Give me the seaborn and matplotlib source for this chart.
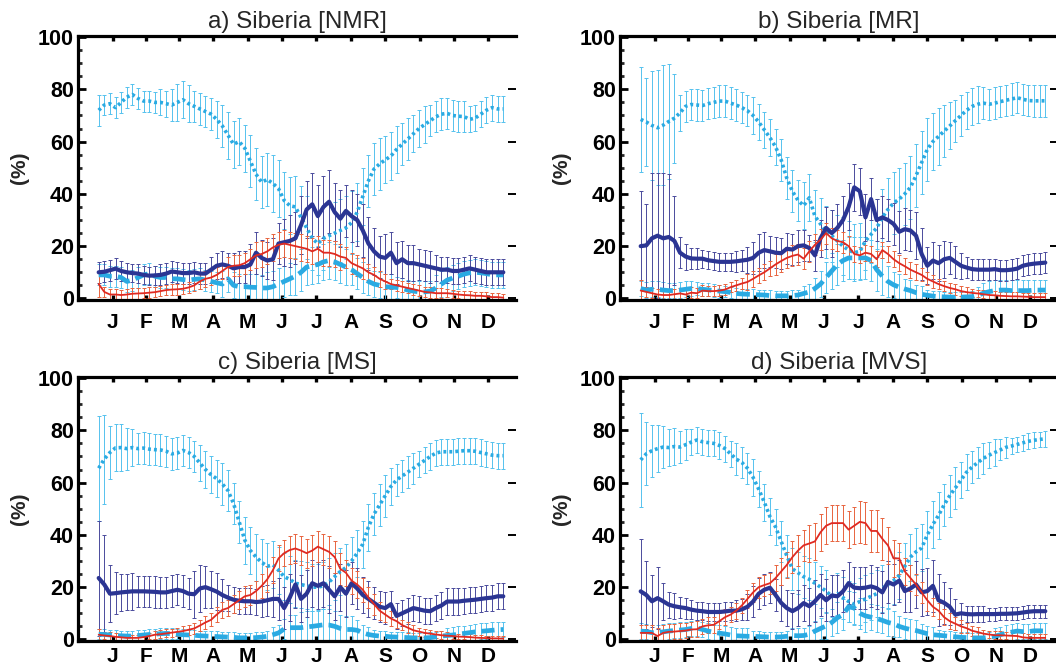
import numpy as np
import pandas as pd
import matplotlib
matplotlib.use("Agg")
import matplotlib.pyplot as plt
import seaborn as sns
from matplotlib.ticker import MultipleLocator, FixedLocator

sns.set_theme(style="white")
plt.rcParams['font.family'] = ['Liberation Sans', 'DejaVu Sans']

# ---------------- data ----------------
month_labels = ['J', 'F', 'M', 'A', 'M', 'J', 'J', 'A', 'S', 'O', 'N', 'D']
month_mid_days = [15.5, 45, 74.5, 105, 135.5, 166, 196.5, 227.5, 258, 288.5, 319, 349.5]
titles = ['a) Siberia [NMR]', 'b) Siberia [MR]', 'c) Siberia [MS]', 'd) Siberia [MVS]']

# ---- panel a ----
a_dot = [72, 74, 74.5, 73, 75, 77, 78, 76.5, 75.5, 75.5,
         75, 75, 74.5, 74, 75, 76, 74.5, 73.5, 72.5, 71.5,
         70.5, 68.5, 66, 62.5, 59, 60, 57.5, 52.5, 47.5, 44.5,
         45.5, 44, 42, 37.5, 35.5, 35, 31, 27, 23, 21,
         23, 24, 25, 26, 27, 29, 33, 39, 45, 49.5,
         51.5, 53, 54.5, 57, 59, 61, 63, 65, 66.5, 68,
         69.5, 70.5, 70.8, 70, 69.7, 69.6, 68.5, 69, 70.5, 72,
         73, 72.5, 72.5]
a_dot_err = [6, 4, 4, 4, 4, 4, 4, 4, 4, 4,
             4, 5, 5, 6, 7, 7, 7, 6, 6, 6,
             6, 7, 8, 9, 9, 9, 9, 10, 10, 10,
             10, 11, 11, 11, 11, 12, 12, 12, 12, 12,
             12, 12, 12, 12, 12, 12, 11, 11, 10, 10,
             10, 9, 9, 9, 8, 8, 7, 7, 7, 6,
             6, 6, 6, 6, 6, 6, 5, 5, 5, 5,
             5, 5, 5]
a_sol = [10, 10.2, 10.8, 11.4, 10.5, 10, 9.7, 9.5, 9, 8.7,
         8.8, 9, 9.5, 10.3, 10, 9.7, 9.7, 10, 9.5, 9.5,
         11, 12.5, 13, 12.5, 11.5, 12, 12, 13, 17.5, 15.5,
         14.5, 15, 21, 21.5, 22, 23, 28, 34, 36, 31.5,
         35, 37, 33, 30.5, 33.5, 31.5, 30, 26, 21, 18,
         16, 15.5, 17.5, 13.5, 15, 13.5, 13.5, 13, 12.5, 12,
         11.5, 11, 11, 10.5, 10.5, 11, 11.5, 11, 10.5, 10,
         10, 10, 10]
a_sol_err = [4, 4, 4, 4, 4, 3.5, 3.5, 3.5, 3.5, 3.5,
             3.5, 4, 4, 4, 4, 4, 4, 4, 4, 4,
             5, 5, 5, 5, 6, 6, 6, 8, 8, 7,
             7, 8, 8, 9, 10, 10, 11, 11, 12, 12,
             12, 12, 11, 11, 10, 10, 10, 10, 10, 9,
             8, 9, 8, 8, 7, 7, 7, 6, 6, 6,
             5, 5, 5, 5, 5, 5, 5, 5, 5, 5,
             5, 5, 5]
a_red = [5.5, 2.5, 1.5, 1.5, 1.3, 1.5, 1.8, 1.9, 2, 2.2,
         2.4, 2.8, 3.2, 3.4, 3.5, 3.7, 4.2, 5, 6.5, 7.5,
         8, 9, 10.5, 12, 12.5, 12.7, 13.5, 15, 16.5, 17,
         18, 19.5, 20.5, 21, 20.5, 20, 19.5, 19, 18, 19,
         17.5, 17.5, 17, 16, 15.5, 13.5, 12.5, 11.5, 10, 9,
         7.5, 6.5, 5.5, 5, 4.5, 4, 3.5, 3, 2.5, 2.3,
         2, 2, 2, 1.8, 1.5, 1.3, 1.2, 1, 1, 0.8,
         0.5, 0.5, 0.3]
a_red_err = [5, 2, 2, 2, 2, 2, 2, 2, 2, 2,
             2, 2, 2, 2, 2, 2, 2, 2, 3, 3,
             3, 3, 3, 4, 4, 4, 4, 4, 5, 5,
             5, 5, 5, 5, 5, 5, 5, 5, 5, 5,
             5, 5, 5, 5, 4, 4, 4, 4, 3, 3,
             3, 3, 2, 2, 2, 2, 2, 2, 2, 2,
             2, 2, 1.5, 1.5, 1.5, 1.5, 1.5, 1.5, 1.5, 1.5,
             1.5, 1.5, 1.5]
a_das = [9, 9, 8.5, 8.5, 8, 6.5, 7, 8, 9, 9.5,
         8.5, 8, 8, 7.5, 7.5, 7.2, 7, 7.3, 7.5, 7,
         6.5, 6, 5.5, 7.5, 5, 4.5, 4.5, 4.3, 4.2, 4,
         4, 4.5, 5.5, 6.5, 7.5, 8.5, 10, 12, 12.5, 13,
         14, 14.5, 14, 13, 12, 11, 9.5, 8, 6.5, 5.5,
         5, 4.5, 4.3, 4.2, 3.8, 3.2, 2.8, 2.5, 2.5, 2.8,
         4, 5.5, 7, 7.8, 8.5, 9.3, 9.8, 10, 9.8, 9.5,
         9, 9, 9]
a_das_err = [4, 4, 4, 4, 4, 4, 4, 4, 4, 4,
             4, 4, 4, 4, 4, 4, 4, 4, 4, 4,
             4, 4, 5, 5, 5, 5, 5, 5, 5, 5,
             6, 6, 6, 6, 6, 7, 7, 7, 7, 7,
             7, 7, 7, 7, 7, 6, 6, 6, 5, 5,
             5, 5, 5, 4, 4, 4, 4, 4, 4, 4,
             5, 5, 5, 5, 5, 5, 5, 5, 5, 5,
             5, 5, 5]

# ---- panel b ----
b_dot = [68.5, 67.5, 66.2, 65.3, 66.3, 67.7, 69, 71, 73.5, 74.2,
         74, 73.8, 74.5, 75, 75.5, 75.5, 74.7, 74, 73, 71.8,
         70, 67.5, 64.5, 61.5, 58, 53, 46, 41, 37.5, 35.5,
         38.5, 31.5, 28.5, 25.5, 24, 22, 20, 18.5, 17.5, 18,
         22, 24.5, 27, 31, 34, 36.5, 38, 40, 42.5, 47,
         52, 57, 60, 62, 64, 66, 68, 70, 72, 73.5,
         74.3, 74.7, 74.3, 74.7, 75.3, 75.8, 76.3, 76.8, 76.2, 75.7,
         75.6, 75.6, 75.6]
b_dot_err = [20, 17, 21, 22, 23, 22, 17, 7, 6, 6,
             6, 6, 6, 6, 6, 6, 6, 6, 6, 6,
             7, 7, 7, 7, 7, 8, 8, 8, 8, 9,
             9, 10, 10, 10, 10, 10, 11, 11, 11, 11,
             11, 11, 11, 11, 12, 12, 12, 12, 12, 12,
             12, 12, 11, 11, 10, 9, 8, 8, 7, 7,
             7, 6, 6, 6, 6, 6, 6, 6, 6, 6,
             6, 6, 6]
b_sol = [20, 20.3, 23, 24, 23, 23.5, 22, 17.5, 16, 15.3,
         15.2, 15.2, 14.6, 14.3, 14, 14, 14, 14.2, 14.5, 14.8,
         15.5, 17.5, 18.5, 18, 17.5, 17.3, 19, 18.7, 20, 20.3,
         19.3, 16.5, 23, 27, 25, 27, 30, 35, 42.5, 41,
         31, 38, 30, 31, 30, 28.5, 25.5, 26.5, 26, 24,
         17, 12.5, 14.5, 13.5, 15, 15.5, 14, 12.5, 11.8, 11.2,
         11, 11, 11, 11.2, 10.8, 10.8, 11, 11.4, 12.5, 13,
         13.3, 13.5, 13.7]
b_sol_err = [21, 16, 25, 24, 25, 24, 17, 6, 5, 4,
             4, 3.5, 3.5, 3.5, 3.5, 3.5, 3.5, 4, 4, 5,
             6, 7, 7, 6, 6, 6, 6, 6, 6, 6,
             5, 6, 7, 8, 9, 9, 9, 9, 9, 9,
             9, 8, 8, 8, 8, 8, 8, 8, 8, 9,
             10, 7, 7, 7, 7, 6, 6, 5, 4, 4,
             4, 4, 4, 4, 4, 4, 4, 4, 4, 4,
             4, 4, 4]
b_red = [3, 2.5, 2, 1.5, 1.3, 1.3, 1.6, 1.9, 1.5, 2.2,
         2, 3, 2.8, 2.8, 3, 3.4, 4.3, 5, 5.7, 6.3,
         7.5, 8.8, 10, 11.5, 13, 14.3, 15.5, 16.3, 16.8, 15.2,
         18, 20.5, 22.5, 25, 23, 22, 21.5, 20, 17, 16.5,
         17.5, 17, 15, 18.5, 17, 15, 13.5, 12.3, 11, 10,
         9, 7.5, 6.5, 5.5, 4.7, 4, 3.5, 2.8, 2.4, 2.1,
         1.9, 1.6, 1.3, 1.2, 1, 0.9, 0.8, 0.8, 0.7, 0.6,
         0.5, 0.5, 0.5]
b_red_err = [4, 2, 2, 2, 2, 2, 2, 2, 2, 2,
             2, 2, 2, 2, 2, 2, 2, 2, 2, 3,
             3, 3, 3, 3, 4, 4, 4, 4, 4, 4,
             4, 4, 4, 4, 4, 4, 4, 4, 3, 3,
             3, 3, 3, 3, 3, 3, 3, 3, 3, 3,
             2.5, 2.5, 2.5, 2, 2, 2, 2, 2, 2, 1.5,
             1.5, 1.5, 1.5, 1.5, 1.5, 1.5, 1.5, 1.5, 1.5, 1.5,
             1.5, 1.5, 1.5]
b_das = [3.8, 3.2, 3.5, 3.5, 3.2, 3, 3, 3.2, 3.5, 3.8,
         3.8, 3.5, 3.3, 3, 2.8, 2.6, 2.3, 1.9, 1.7, 1.6,
         1.5, 1.4, 1.3, 1.1, 1, 1, 1, 1.1, 1.3, 1.9,
         2.5, 3.8, 5.5, 8, 10.5, 13, 14.5, 15.5, 15.5, 15.5,
         15.5, 14.5, 11, 8.5, 6.5, 5.2, 4.3, 3.6, 3, 2.2,
         1.6, 1.2, 0.9, 0.7, 0.6, 0.5, 0.5, 0.5, 0.6, 0.7,
         1.2, 2, 2.6, 3, 3.2, 3.2, 3, 3, 3, 3,
         3.2, 3.2, 3.2]
b_das_err = [3, 3, 3, 3, 3, 3, 3, 3, 3, 3,
             2.5, 2.5, 2.5, 2.5, 2.5, 2, 2, 2, 2, 2,
             2, 2, 2, 2, 2, 2, 2, 2, 2, 3,
             3, 4, 5, 6, 7, 8, 8, 8, 8, 8,
             8, 8, 8, 7, 6, 5, 5, 4, 4, 3,
             3, 2, 2, 2, 2, 2, 2, 2, 2, 2,
             3, 4, 4, 4, 4, 4, 4, 4, 4, 4,
             4, 4, 4]

# ---- panel c ----
c_dot = [65.5, 69, 71.5, 73.3, 73.4, 73, 73.4, 73, 73.2, 72.8,
         72.6, 72.5, 72, 71, 71.3, 72.3, 71.5, 70, 67.5, 65,
         63, 61.5, 59.5, 57, 52, 45, 38, 34, 31.5, 29.5,
         28, 28.5, 26.5, 24, 23, 21.5, 21, 20.5, 20, 20,
         20.5, 22, 24, 26, 27.5, 30, 33, 36.5, 43, 48,
         51.5, 55, 58.5, 61, 62.5, 64, 65.5, 67, 68.5, 70,
         71.3, 71.8, 71.8, 71.8, 72, 72.2, 72.2, 72, 71.5, 71,
         70.5, 70.3, 70.3]
c_dot_err = [20, 17, 10, 9, 9, 8, 7, 6, 6, 6,
             6, 6, 6, 6, 6, 6, 6, 6, 7, 7,
             7, 7, 8, 8, 8, 8, 9, 9, 9, 9,
             9, 9, 9, 9, 9, 9, 9, 9, 9, 9,
             9, 9, 9, 9, 9, 9, 9, 9, 9, 8,
             8, 8, 7, 6, 6, 6, 6, 5, 5, 5,
             5, 5, 5, 5, 5, 5, 5, 5, 5, 5,
             5, 5, 5]
c_sol = [23.5, 21, 17.5, 17.7, 18, 18.2, 18.4, 18.4, 18.4, 18.3,
         18.2, 18, 18, 18.5, 19, 18.5, 17.5, 17.3, 19.5, 20,
         19.2, 18.3, 17, 16, 15.2, 14.8, 14.6, 14.6, 14.3, 14.5,
         15, 15.5, 15.5, 12, 16, 21, 15.5, 17.5, 21.5, 20.5,
         21.5, 19, 16.5, 20, 17.5, 21.5, 19.5, 17, 15.5, 14,
         12.5, 12, 13.5, 9, 10, 11, 12, 11.5, 11, 10.8,
         12, 13, 14.5, 14.5, 14.5, 14.8, 15, 15.2, 15.5, 15.8,
         16, 16.5, 16.5]
c_sol_err = [22, 19, 11, 8, 7, 7, 7, 6, 6, 6,
             6, 6, 6, 6, 6, 6, 6, 9, 9, 8,
             7, 7, 6, 5, 5, 5, 5, 5, 5, 6,
             6, 7, 8, 8, 9, 9, 9, 9, 9, 9,
             9, 9, 9, 9, 9, 8, 8, 7, 7, 6,
             6, 6, 5, 5, 5, 5, 5, 5, 5, 5,
             5, 5, 5, 5, 5, 5, 5, 5, 5, 5,
             5, 5, 5]
c_red = [1.8, 1.5, 1.3, 1, 0.8, 0.6, 0.6, 0.6, 0.9, 1.3,
         1.8, 2, 2.3, 2.6, 2.9, 3.2, 3.7, 4.2, 5.3, 6.5,
         7.5, 9.5, 11.3, 12, 13.5, 15, 16.5, 17, 18.5, 20.5,
         23, 26.5, 31, 33, 34.2, 34.8, 34, 33, 34, 35.5,
         34.5, 33.5, 31.5, 27, 25.5, 22.5, 21, 19, 16, 13.5,
         11, 9.5, 8, 7, 5.5, 4.5, 3.5, 3, 2.5, 2.2,
         1.9, 1.6, 1.4, 1.3, 1.1, 1, 0.9, 0.7, 0.6, 0.5,
         0.4, 0.4, 0.3]
c_red_err = [2, 1.5, 1.5, 1.5, 1, 1, 1, 1, 1, 1,
             1.5, 1.5, 1.5, 1.5, 1.5, 2, 2, 2, 2, 2.5,
             2.5, 3, 3, 3, 3.5, 3.5, 4, 4, 4, 4.5,
             5, 5, 5, 5, 5.5, 5.5, 5.5, 5.5, 6, 6,
             6, 6, 6, 6, 5, 5, 5, 4.5, 4, 4,
             3.5, 3, 3, 2.5, 2, 2, 2, 1.5, 1.5, 1.5,
             1.5, 1.5, 1.5, 1, 1, 1, 1, 1, 1, 1,
             1, 1, 1]
c_das = [2, 1.9, 1.7, 1.5, 1.4, 1.3, 1.3, 1.5, 1.7, 1.9,
         2, 2.2, 2.3, 2.2, 2, 1.8, 1.7, 1.6, 1.4, 1.3,
         1.2, 1.1, 1, 0.9, 0.8, 0.6, 0.6, 0.6, 0.7, 0.9,
         1.2, 1.8, 2.5, 4, 4.5, 4.5, 4.5, 4.8, 5, 5.3,
         5.6, 5.5, 5, 4.2, 3.8, 3.8, 3.5, 2.5, 1.9, 1.5,
         1.3, 1.2, 1, 0.9, 0.8, 0.7, 0.6, 0.6, 0.6, 0.7,
         1, 1.3, 1.5, 1.7, 2, 2.3, 2.6, 2.9, 3.1, 3.3,
         3.5, 3.7, 3.8]
c_das_err = [2, 2, 2, 2, 2, 2, 2, 2, 2, 2,
             2, 2, 2, 2, 2, 2, 2, 2, 2, 2,
             2, 2, 2, 2, 2, 2, 2, 2, 2, 2,
             2, 3, 3, 4, 5, 5, 6, 6, 6, 6,
             6, 6, 6, 5, 5, 5, 4, 3, 3, 2,
             2, 2, 2, 2, 2, 2, 2, 2, 2, 2,
             2, 2, 3, 3, 3, 3, 3, 3, 3, 3,
             3, 3, 3]

# ---- panel d ----
d_dot = [68.7, 71, 72.2, 73, 73.6, 73.4, 73.8, 73.6, 74.5, 75.5,
         76.3, 75.6, 75.3, 75, 74.2, 73, 71, 69, 67.7, 65.5,
         62, 57.5, 52.5, 47, 43, 37.5, 32, 27, 25.5, 24,
         23, 21.5, 20, 18.5, 16.5, 17.5, 16, 14.5, 13.5, 14.5,
         15.5, 16.5, 17.5, 19.5, 21, 22.5, 24.5, 28, 31.5, 33.5,
         35, 40, 44, 47.5, 51.5, 55, 58, 61, 64, 66,
         67.7, 69.3, 70.5, 71.5, 72.5, 73.5, 74, 74.6, 75.2, 75.8,
         76.2, 76.5, 76.8]
d_dot_err = [18, 12, 10, 9, 8, 7, 7, 6, 6, 5,
             5, 5, 5, 5, 5, 5, 5, 6, 6, 6,
             7, 7, 7, 7, 7, 8, 8, 8, 8, 8,
             8, 8, 8, 8, 8, 8, 8, 8, 8, 9,
             9, 9, 9, 9, 9, 9, 9, 9, 9, 9,
             9, 9, 9, 9, 8, 8, 8, 7, 7, 6,
             6, 6, 5, 5, 4, 4, 3, 3, 3, 3,
             3, 3, 3]
d_sol = [18.4, 17, 14.6, 15.8, 14.6, 13.3, 12.7, 12.3, 12, 11.4,
         11, 10.8, 10.5, 10.5, 10.5, 10.7, 11, 11, 11.5, 12.5,
         14.5, 17.5, 19, 19.8, 17, 14, 12, 10.8, 12, 13.9,
         12.7, 14.6, 17, 15, 16.8, 16.5, 18.4, 21.5, 19.8, 19.6,
         19.8, 20.3, 19.6, 18, 22, 21, 22.5, 18.5, 19.5, 21,
         18, 18.5, 20.5, 15, 14, 12.5, 9.5, 10, 9.7, 9.6,
         9.7, 9.7, 9.7, 9.7, 9.8, 9.8, 9.9, 10, 10.3, 10.6,
         10.8, 10.8, 10.8]
d_sol_err = [20, 13, 10, 12, 7, 5, 5, 4, 4, 3.5,
             3.5, 3.5, 3.5, 3.5, 3.5, 3.5, 3.5, 4, 4, 5,
             6, 6, 6, 6, 6, 7, 7, 7, 7, 7,
             7, 8, 8, 8, 8, 8, 8, 8, 8, 8,
             8, 8, 8, 8, 8, 8, 8, 8, 9, 9,
             9, 9, 10, 10, 8, 7, 6, 4, 3, 3,
             3, 3, 2.5, 2.5, 2.5, 2.5, 2.5, 2.5, 2.5, 2.5,
             2.5, 2.5, 2.5]
d_red = [2.5, 2.5, 2.5, 1.3, 2.5, 2.9, 3, 3.2, 3.4, 3.8,
         3.9, 5, 5.4, 5.6, 7, 8.5, 9.5, 11, 13, 15.5,
         18, 20, 20.8, 21.5, 23.5, 26, 28.5, 31.5, 34, 36,
         36.7, 37.5, 41, 43.5, 44.5, 44.5, 44.5, 42, 43.5, 45,
         44.5, 41.5, 41.5, 38.5, 36, 31, 31, 26, 23.5, 21,
         18, 15, 12.5, 11, 8.5, 7, 6, 5, 4.3, 3.3,
         2.8, 2.2, 1.9, 1.6, 1.6, 1.5, 1.4, 1.3, 0.8, 0.6,
         0.6, 0.6, 0.6]
d_red_err = [3, 3, 3, 3, 3, 3, 3, 3, 3, 3,
             3, 3, 3, 3, 3, 3, 3, 3, 3, 3.5,
             3.5, 4, 4, 4, 5, 5, 5, 6, 6, 6,
             7, 7, 7, 7, 7, 7, 7, 7, 7, 8,
             8, 8, 8, 8, 7, 7, 6, 5, 5, 4,
             4, 4, 3.5, 3, 3, 3, 2.5, 2.5, 2, 2,
             2, 1.5, 1.5, 1.5, 1.5, 1.5, 1.5, 1.5, 1.5, 1.5,
             1.5, 1.5, 1.5]
d_das = [3.2, 3, 2.6, 2.6, 2.9, 3.2, 3.4, 3.6, 3.8, 4.2,
         4.4, 3.8, 3.2, 2.7, 2.4, 2.1, 1.7, 1.4, 1.3, 1.2,
         1.2, 1.1, 1, 0.9, 0.9, 1, 1.2, 1.5, 1.4, 1.5,
         2, 3.2, 4.2, 5.2, 6.5, 8.3, 9.5, 12.5, 12, 10,
         9, 8.5, 8, 7.3, 6.5, 6, 5, 4.3, 3.8, 3.4,
         2.8, 2.2, 1.8, 1.6, 1.4, 1.2, 1, 0.8, 0.7, 0.6,
         0.6, 0.6, 0.9, 1.2, 1.8, 2.4, 2.8, 3.2, 3, 3,
         3.3, 3.3, 3.2]
d_das_err = [3, 3, 3, 3, 3, 3, 3, 3, 3, 3,
             3, 3, 3, 3, 3, 3, 3, 3, 3, 3,
             2, 2, 2, 2, 2, 2, 2, 3, 3, 3,
             3, 4, 4, 5, 5, 6, 6, 6, 6, 6,
             6, 5, 5, 5, 5, 5, 4, 4, 4, 4,
             3, 3, 3, 2, 2, 2, 2, 2, 2, 2,
             2, 2, 2, 3, 3, 3, 3, 3, 3, 3,
             3, 3, 3]

# pentad centre days (x positions of the 73 pentads)
pentad_days = np.arange(73) * 5 + 3

panels = [
    (titles[0], a_dot, a_dot_err, a_sol, a_sol_err, a_red, a_red_err, a_das, a_das_err),
    (titles[1], b_dot, b_dot_err, b_sol, b_sol_err, b_red, b_red_err, b_das, b_das_err),
    (titles[2], c_dot, c_dot_err, c_sol, c_sol_err, c_red, c_red_err, c_das, c_das_err),
    (titles[3], d_dot, d_dot_err, d_sol, d_sol_err, d_red, d_red_err, d_das, d_das_err),
]
for p in panels:
    for arr in p[1:]:
        assert len(arr) == 73, (p[0], len(arr))

# ---------------- style ----------------
C_NAVY = '#2b3593'
C_NAVY_E = '#4a4b9c'
C_CYAN = '#2aaae2'
C_CYAN_E = '#55c2ee'
C_RED = '#df2a22'
C_RED_E = '#e8643f'

W, H = 1056, 670
fig = plt.figure(figsize=(W / 100, H / 100), dpi=100)

ax_w = 438 / W
ax_h = 264 / H
positions = [
    (78 / W, 1 - 300 / H, 9),
    (620 / W, 1 - 300 / H, 9),
    (78 / W, 1 - 641 / H, 4.5),
    (620 / W, 1 - 641 / H, 4.5),
]

for (left, bottom, xpad), (title, dot, edot, sol, esol, red, ered, das, edas) in zip(positions, panels):
    ax = fig.add_axes([left, bottom, ax_w, ax_h])
    x = pentad_days
    # error bars
    for vals, errs, col, z in [(dot, edot, C_CYAN_E, 1.0), (das, edas, C_CYAN_E, 1.1),
                               (sol, esol, C_NAVY_E, 1.2), (red, ered, C_RED_E, 1.3)]:
        ax.errorbar(x, vals, yerr=errs, fmt='none', ecolor=col, elinewidth=0.7,
                    capsize=1.4, capthick=0.7, zorder=z)
    # lines
    specs = [
        (dot, C_CYAN, 2.6, (0, (0.8, 0.85)), 2.0),
        (das, C_CYAN, 3.4, (0, (2.8, 1.3)), 2.1),
        (sol, C_NAVY, 3.0, '-', 2.2),
        (red, C_RED, 1.3, '-', 2.3),
    ]
    for vals, col, lw, ls, z in specs:
        df = pd.DataFrame({'day': x, 'pct': vals})
        n_before = len(ax.lines)
        sns.lineplot(data=df, x='day', y='pct', ax=ax, color=col, linewidth=lw,
                     errorbar=None, sort=False, zorder=z, legend=False)
        line = ax.lines[n_before]
        line.set_linestyle(ls)
        line.set_dash_capstyle('butt')
        line.set_solid_joinstyle('round')

    ax.set_xlim(-15.4, 374.3)
    ax.set_ylim(-0.6, 100.4)
    ax.xaxis.set_major_locator(FixedLocator(month_mid_days))
    ax.set_xticks(month_mid_days)
    ax.set_xticklabels(month_labels)
    ax.set_yticks([0, 20, 40, 60, 80, 100])
    ax.yaxis.set_minor_locator(MultipleLocator(5))

    for side in ['left', 'top', 'bottom']:
        ax.spines[side].set_linewidth(2.3)
        ax.spines[side].set_color('black')
        ax.spines[side].set_zorder(10)
    ax.spines['right'].set_visible(False)

    ax.tick_params(axis='y', which='major', direction='in', length=5.5, width=2.0,
                   left=True, right=True, labelsize=15.5, pad=3, colors='black')
    ax.tick_params(axis='y', which='minor', direction='in', length=3.2, width=2.0,
                   left=True, right=False)
    ax.tick_params(axis='x', which='major', direction='in', length=3.5, width=2.4,
                   top=True, bottom=True, labelsize=15, pad=xpad, colors='black')
    for t in ax.yaxis.get_major_ticks():
        t.tick2line.set_color('#9a9a9a')
        t.tick2line.set_markeredgewidth(1.4)
    for lbl in ax.get_xticklabels() + ax.get_yticklabels():
        lbl.set_fontweight('bold')

    ax.set_xlabel('')
    ax.set_ylabel('(%)', fontsize=15, fontweight='bold')
    ax.yaxis.set_label_coords(-0.112, 0.5)
    ax.set_title(title, fontsize=17.5, pad=6)
    ax.grid(False)

fig.savefig('out.png', dpi=100)
